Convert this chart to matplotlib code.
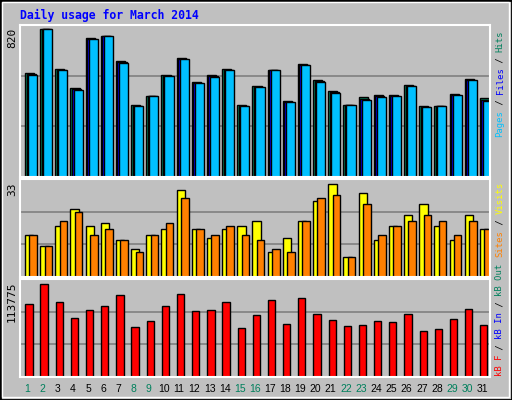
import matplotlib
matplotlib.use("Agg")
import matplotlib.pyplot as plt
from matplotlib.patches import Rectangle
import numpy as np

days = list(range(1, 32))
weekend = [1, 2, 8, 9, 15, 16, 22, 23, 29, 30]
hits = [575, 820, 597, 492, 770, 781, 642, 397, 447, 564, 659, 525, 564, 597, 397, 503,
        592, 419, 625, 536, 475, 397, 441, 453, 453, 508, 391, 391, 458, 542, 436]
pages = [567, 820, 591, 481, 764, 781, 631, 391, 447, 558, 653, 519, 553, 591, 391, 497,
         592, 413, 619, 525, 464, 397, 424, 442, 447, 502, 385, 391, 452, 536, 419]
files = [(h + p) / 2 for h, p in zip(hits, pages)]
visits = [15, 11, 18, 24, 18, 19, 13, 10, 15, 17, 31, 17, 14, 17, 18, 20,
          9, 14, 20, 27, 33, 7, 30, 13, 18, 22, 26, 18, 13, 22, 17]
sites = [15, 11, 20, 23, 15, 17, 13, 9, 15, 19, 28, 17, 15, 18, 15, 13,
         10, 9, 20, 28, 29, 7, 26, 15, 18, 20, 22, 20, 15, 20, 17]
kbytes = [88861, 113775, 91352, 72251, 81386, 86369, 100072, 61454, 68929, 86369, 101317,
          80141, 81386, 91352, 60209, 76403, 93843, 65192, 96335, 77648, 70175, 62700,
          63946, 68929, 67683, 77648, 56472, 58963, 71420, 82632, 63946]

W, H = 512, 400
BG = "#C0C0C0"
C_HITS, C_FILES, C_PAGES = "#00805C", "#0000FF", "#00C0FF"
C_VIS, C_SITES, C_KB = "#FFFF00", "#FF8000", "#FF0000"
mono = "DejaVu Sans Mono"

fig = plt.figure(figsize=(5.12, 4.0), dpi=100, facecolor=BG)

def fx(x): return x / W
def fy(y): return 1 - y / H

# outer border
fig.patches.append(Rectangle((0, 0), 1, 1, transform=fig.transFigure, fill=False,
                             edgecolor="black", lw=2))
fig.patches.append(Rectangle((fx(2), fy(397)), fx(507), 395 / H, transform=fig.transFigure,
                             fill=False, edgecolor="white", lw=1))

def make_ax(y0, y1):
    ax = fig.add_axes([fx(20), fy(y1), fx(470), (y1 - y0) / H])
    ax.set_facecolor(BG)
    for s in ax.spines.values():
        s.set_color("white"); s.set_linewidth(1.5)
    ax.set_xlim(0.5, 31.5)
    ax.set_xticks([]); ax.set_yticks([])
    for f in (1/3, 2/3):
        ax.plot([0, 1], [f, f], transform=ax.transAxes, color="#808080", lw=1.2, zorder=0)
    return ax

x = np.array(days, dtype=float)
ax1 = make_ax(25, 177)
ax1.set_ylim(0, 842)
kw = dict(align="edge", edgecolor="black", linewidth=1, zorder=2)
ax1.bar(x - 0.17, hits, 0.6, color=C_HITS, **kw)
ax1.bar(x - 0.07, files, 0.6, color=C_FILES, **kw)
ax1.bar(x + 0.03, pages, 0.6, color=C_PAGES, **kw)

ax2 = make_ax(179, 277)
ax2.set_ylim(0, 34.8)
ax2.bar(x - 0.17, visits, 0.55, color=C_VIS, **kw)
ax2.bar(x + 0.12, sites, 0.5, color=C_SITES, **kw)

ax3 = make_ax(279, 377)
ax3.set_ylim(0, 119890)
ax3.bar(x - 0.15, kbytes, 0.48, color=C_KB, **kw)

# title
fig.text(fx(20), fy(15), "Daily usage for March 2014", color="#0000FF", family=mono,
         weight="bold", fontsize=8.3, va="center", ha="left")

# y max labels
fig.text(fx(12), fy(28), "820", rotation=90, family=mono, fontsize=8, ha="center", va="top")
fig.text(fx(12), fy(183), "33", rotation=90, family=mono, fontsize=8, ha="center", va="top")
fig.text(fx(12), fy(281), "113775", rotation=90, family=mono, fontsize=8, ha="center", va="top")

# x labels
for d in days:
    px = 20 + (d - 0.5) * 470 / 31
    fig.text(fx(px), fy(389), str(d), ha="center", va="center", fontsize=7.5,
             family="Liberation Sans", color=C_HITS if d in weekend else "black")

# right side legends (bottom-to-top)
adv = 0.6 * 6.4 * 100 / 72
def vlegend(ybottom, parts):
    y = ybottom
    for txt, col in parts:
        fig.text(fx(500), fy(y), txt, rotation=90, family=mono, fontsize=6.4, color=col,
                 ha="center", va="bottom")
        y -= len(txt) * adv

vlegend(137, [("Pages", C_PAGES), (" / ", "black"), ("Files", C_FILES),
              (" / ", "black"), ("Hits", C_HITS)])
vlegend(257, [("Sites", C_SITES), (" / ", "black"), ("Visits", C_VIS)])
vlegend(376, [("kB F", C_KB), (" / ", "black"), ("kB In", C_FILES),
              (" / ", "black"), ("kB Out", C_HITS)])

fig.savefig("out.png", dpi=100, facecolor=BG)
